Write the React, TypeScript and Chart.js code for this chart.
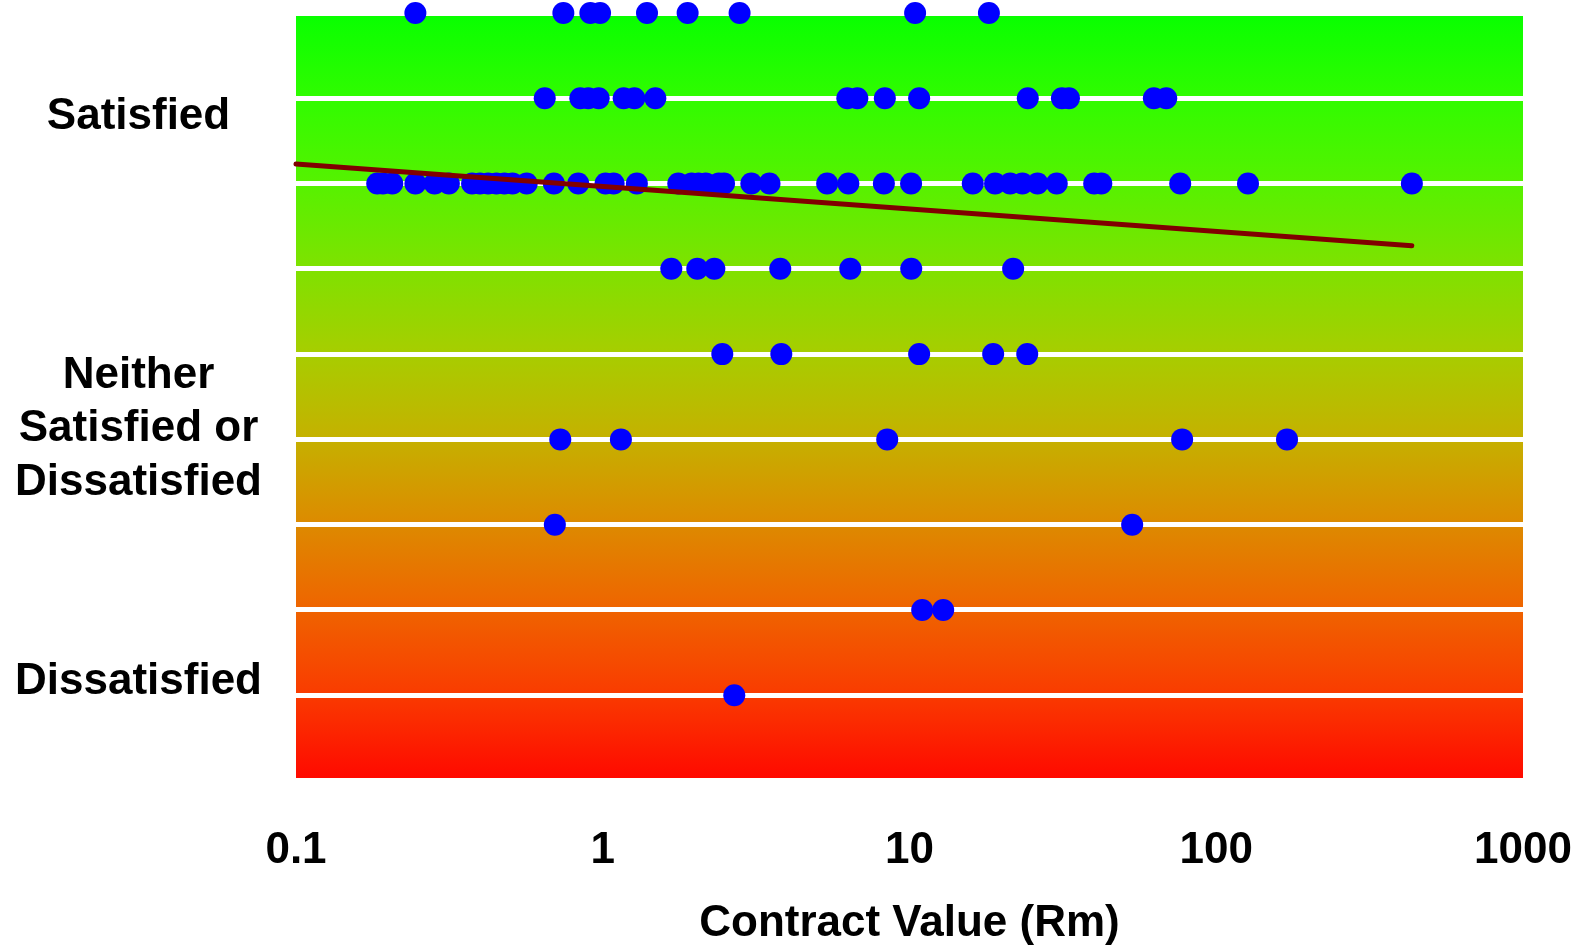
import React, { useEffect, useRef } from 'react';
import { Chart, registerables } from 'chart.js';

Chart.register(...registerables);

// ---- data ----
const xTickValues = [0.1, 1, 10, 100, 1000];
const yLabelPositions = [7.78, 4.12, 1.16];
const yLabelTexts: (string | string[])[] = ['Satisfied', ['Neither', 'Satisfied or', 'Dissatisfied'], 'Dissatisfied'];
const gridLevels = [0, 1, 2, 3, 4, 5, 6, 7, 8, 9];

const level9 = [0.245, 0.744, 0.911, 0.98, 1.394, 1.891, 2.793, 10.43, 18.15];
const level8 = [0.647, 0.845, 0.897, 0.97, 1.17, 1.268, 1.484, 6.27, 6.76, 8.31, 10.75, 24.3, 31.4, 33.1, 62.6, 68.7];
const level7 = [0.184, 0.192, 0.206, 0.245, 0.283, 0.315, 0.375, 0.398, 0.423, 0.45, 0.478, 0.508, 0.565, 0.693, 0.832, 1.021, 1.085, 1.292, 1.763, 1.949, 2.053, 2.166, 2.391, 2.485, 3.05, 3.496, 5.39, 6.32, 8.25, 10.12, 16.08, 19.01, 21.29, 23.33, 26.15, 30.2, 40.0, 42.2, 76.3, 126.9, 434.2];
const level6 = [1.673, 2.033, 2.311, 3.79, 6.41, 10.13, 21.77];
const level5 = [2.453, 3.82, 10.75, 18.74, 24.2];
const level4 = [0.727, 1.146, 8.46, 77.4, 170.1];
const level3 = [0.698, 53.2];
const level2 = [11.0, 12.88];
const level1 = [2.684];

const trendX = [0.1, 434];
const trendY = [7.23, 6.27];

const gradientStops: [number, string][] = [
  [0.0, '#08ff00'],
  [0.11, '#30fc00'],
  [0.22, '#55f200'],
  [0.33, '#7ee200'],
  [0.44, '#a6ce00'],
  [0.55, '#c4b200'],
  [0.66, '#dc8c00'],
  [0.77, '#ee6600'],
  [0.88, '#f93e00'],
  [1.0, '#ff0800'],
];

const FONT = '"Liberation Sans", Arial, Helvetica, sans-serif';

const backgroundPlugin = {
  id: 'bandBackground',
  beforeDraw(chart: any) {
    const { ctx, chartArea } = chart;
    if (!chartArea) return;
    const g = ctx.createLinearGradient(0, chartArea.top, 0, chartArea.bottom);
    gradientStops.forEach(([o, c]) => g.addColorStop(o, c));
    ctx.save();
    ctx.fillStyle = g;
    ctx.fillRect(chartArea.left, chartArea.top, chartArea.right - chartArea.left, chartArea.bottom - chartArea.top);
    ctx.restore();
  },
};

const zeroPad = (scale: any) => {
  scale.paddingTop = 0;
  scale.paddingBottom = 0;
  scale.paddingLeft = 0;
  scale.paddingRight = 0;
};

export default function App() {
  const ref = useRef<HTMLCanvasElement | null>(null);

  useEffect(() => {
    if (!ref.current) return;
    const levels: [number, number[]][] = [
      [9, level9], [8, level8], [7, level7], [6, level6], [5, level5],
      [4, level4], [3, level3], [2, level2], [1, level1],
    ];
    const points: { x: number; y: number }[] = [];
    levels.forEach(([lv, vals]) => vals.forEach((v) => points.push({ x: v, y: lv })));
    const trend = trendX.map((x, i) => ({ x, y: trendY[i] }));

    const chart = new Chart(ref.current, {
      type: 'scatter',
      data: {
        datasets: [
          {
            type: 'line',
            data: trend,
            borderColor: '#800000',
            borderWidth: 5,
            borderCapStyle: 'round',
            pointRadius: 0,
            showLine: true,
            order: 0,
            clip: false,
          } as any,
          {
            data: points,
            backgroundColor: '#0000ff',
            borderWidth: 0,
            pointRadius: 11,
            pointHoverRadius: 11,
            order: 1,
            clip: false,
          } as any,
        ],
      },
      plugins: [backgroundPlugin],
      options: {
        animation: false,
        responsive: false,
        devicePixelRatio: 1,
        layout: { padding: { top: 13, right: 64, left: 0, bottom: 0 } },
        plugins: { legend: { display: false }, tooltip: { enabled: false } },
        scales: {
          x: {
            type: 'logarithmic',
            position: 'bottom',
            min: 0.1,
            max: 1000,
            afterBuildTicks: (scale: any) => {
              scale.ticks = xTickValues.map((v) => ({ value: v }));
            },
            afterFit: (scale: any) => {
              scale.height = 166.5;
              zeroPad(scale);
            },
            grid: { display: false, drawTicks: false },
            border: { display: false },
            ticks: {
              autoSkip: false,
              maxRotation: 0,
              minRotation: 0,
              padding: 44,
              color: '#000',
              font: { family: FONT, size: 44, weight: 'bold' },
              callback: (v: any) => String(v),
            },
            title: {
              display: true,
              text: 'Contract Value (Rm)',
              color: '#000',
              font: { family: FONT, size: 44, weight: 'bold' },
              padding: { top: 0, bottom: -3 },
            },
          },
          y: {
            type: 'linear',
            position: 'left',
            min: 0,
            max: 9,
            afterBuildTicks: (scale: any) => {
              scale.ticks = yLabelPositions.map((v) => ({ value: v }));
            },
            afterFit: (scale: any) => {
              scale.width = 296;
              zeroPad(scale);
            },
            grid: { display: false, drawTicks: false },
            border: { display: false },
            ticks: {
              autoSkip: false,
              crossAlign: 'center',
              padding: 34,
              color: '#000',
              font: { family: FONT, size: 44, weight: 'bold', lineHeight: 1.21 },
              callback: (_v: any, i: number) => yLabelTexts[i],
            },
          },
          y2: {
            type: 'linear',
            position: 'right',
            min: 0,
            max: 9,
            afterBuildTicks: (scale: any) => {
              scale.ticks = gridLevels.map((v) => ({ value: v }));
            },
            afterFit: (scale: any) => {
              scale.width = 0;
              zeroPad(scale);
            },
            grid: { display: true, color: '#ffffff', lineWidth: 5, drawTicks: false },
            border: { display: false },
            ticks: { display: false },
          },
        },
      } as any,
    });
    return () => chart.destroy();
  }, []);

  return (
    <div style={{ position: 'fixed', left: 0, top: 0, width: 1587, height: 947, background: '#fff' }}>
      <canvas ref={ref} width={1587} height={947} style={{ display: 'block' }} />
    </div>
  );
}
